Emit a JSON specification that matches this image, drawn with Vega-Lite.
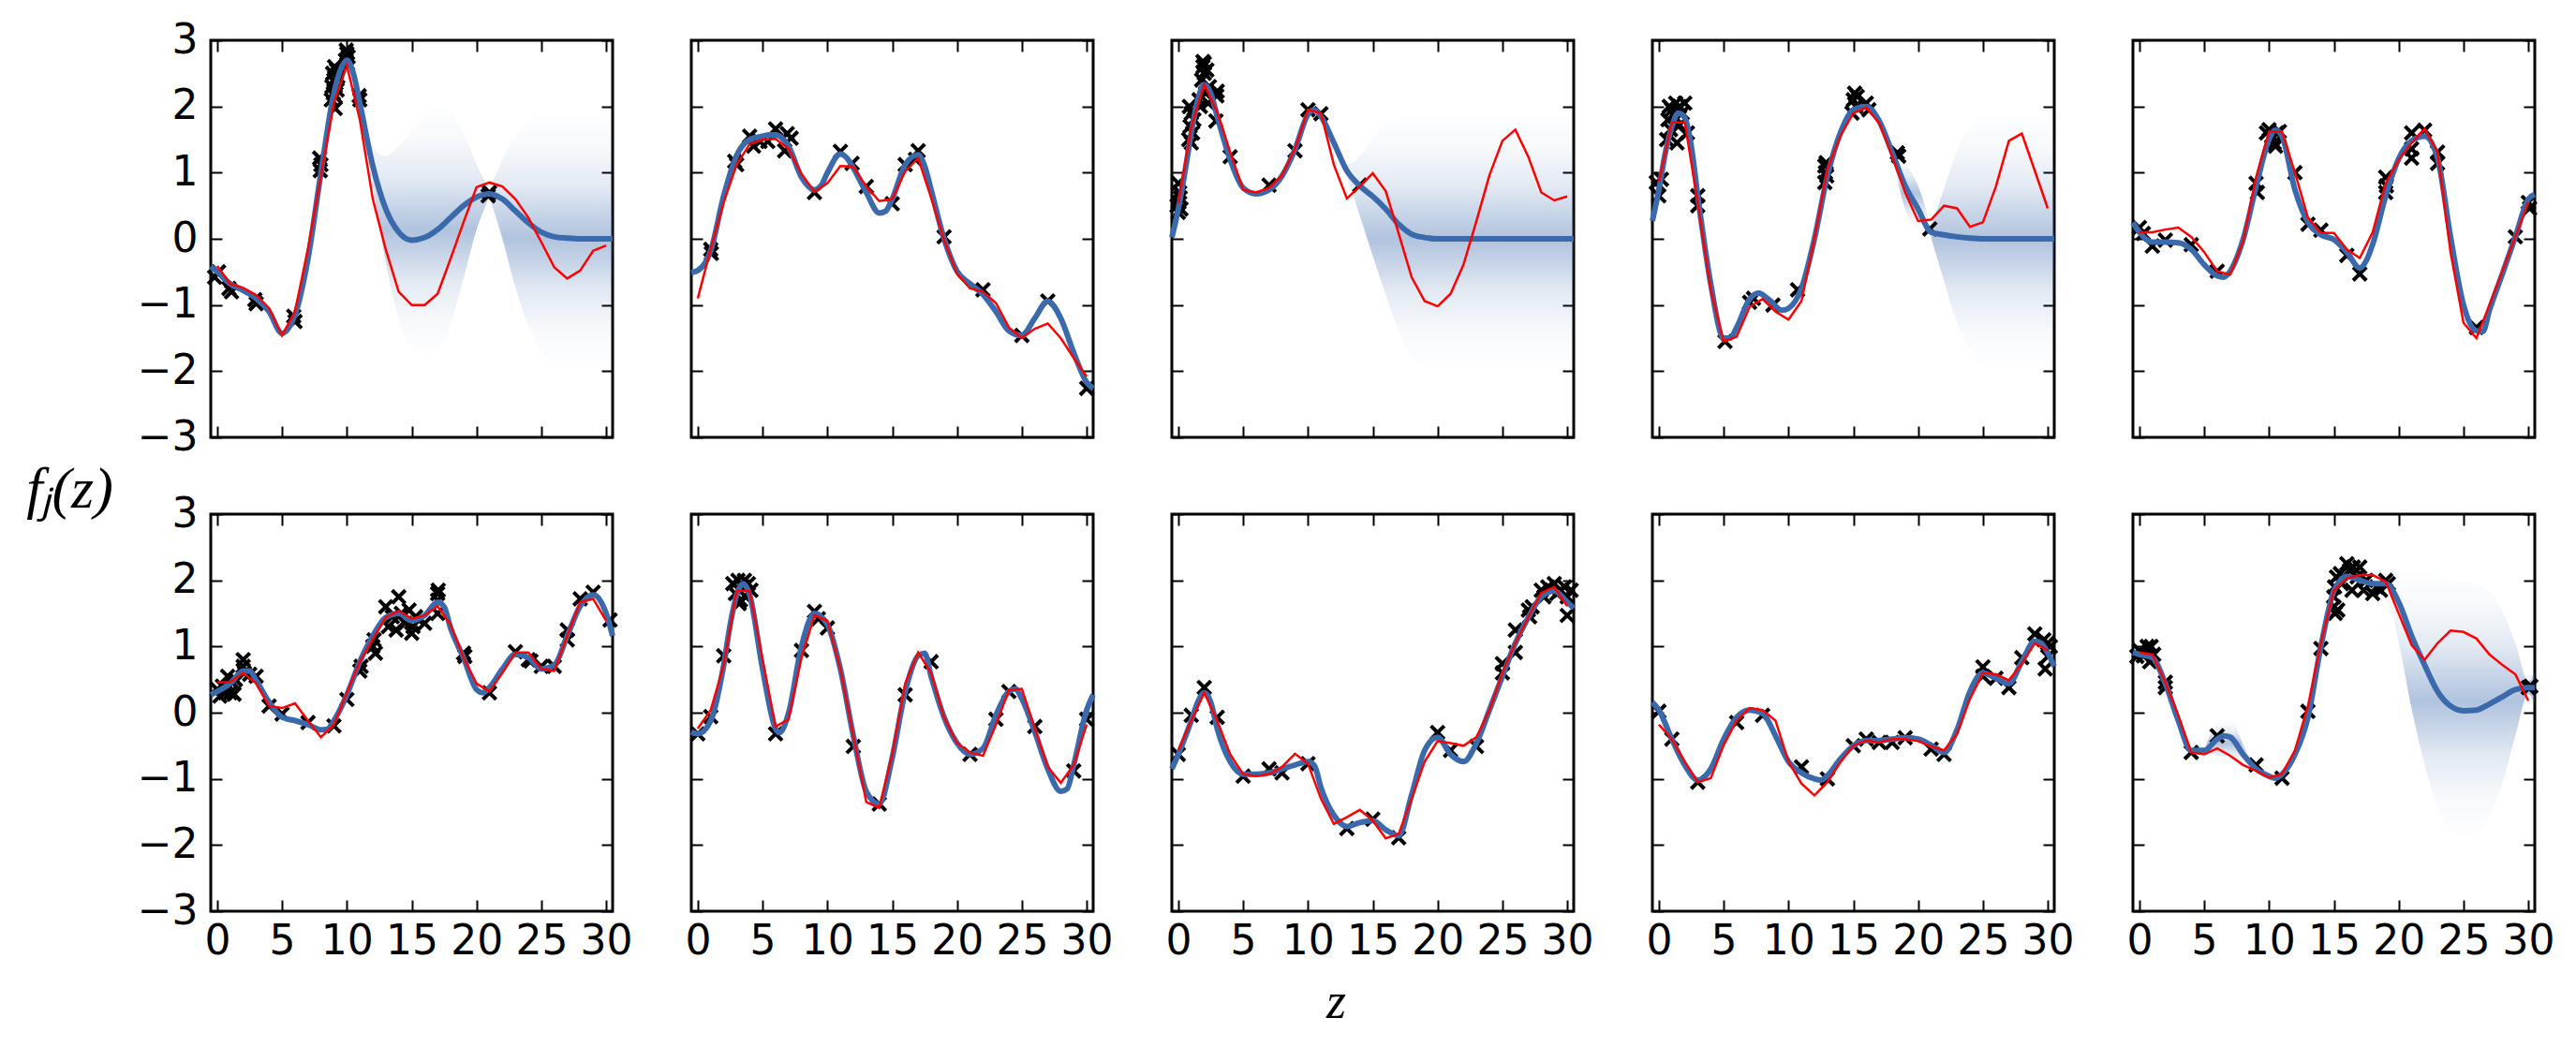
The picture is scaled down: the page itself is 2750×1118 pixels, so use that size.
{
"$schema": "https://vega.github.io/schema/vega-lite/v6.json",
"background": "white",
"padding": {"left": 26, "top": 19, "right": 0, "bottom": 0},
"datasets": {
"m": [
{"p":1,"z":-0.5,"y":-0.42},{"p":1,"z":0,"y":-0.5},{"p":1,"z":1,"y":-0.68},{"p":1,"z":2,"y":-0.78},{"p":1,"z":3,"y":-0.9},{"p":1,"z":4,"y":-1.1},{"p":1,"z":5,"y":-1.43},{"p":1,"z":5.5,"y":-1.35},{"p":1,"z":6,"y":-1.15},{"p":1,"z":7,"y":-0.3},{"p":1,"z":8,"y":1.0},{"p":1,"z":9,"y":2.2},{"p":1,"z":9.5,"y":2.55},{"p":1,"z":10,"y":2.7},{"p":1,"z":10.5,"y":2.5},{"p":1,"z":11,"y":2.05},{"p":1,"z":12,"y":1.1},{"p":1,"z":13,"y":0.45},{"p":1,"z":14,"y":0.1},{"p":1,"z":15,"y":-0.02},{"p":1,"z":16,"y":0.02},{"p":1,"z":17,"y":0.14},{"p":1,"z":18,"y":0.32},{"p":1,"z":19,"y":0.5},{"p":1,"z":20,"y":0.63},{"p":1,"z":21,"y":0.68},{"p":1,"z":22,"y":0.6},{"p":1,"z":23,"y":0.42},{"p":1,"z":24,"y":0.24},{"p":1,"z":25,"y":0.1},{"p":1,"z":26,"y":0.03},{"p":1,"z":27,"y":0.01},{"p":1,"z":28,"y":0},{"p":1,"z":29,"y":0},{"p":1,"z":30,"y":0},{"p":1,"z":30.5,"y":0},
{"p":2,"z":-0.5,"y":-0.51},{"p":2,"z":0,"y":-0.48},{"p":2,"z":1,"y":-0.18},{"p":2,"z":2,"y":0.65},{"p":2,"z":3,"y":1.26},{"p":2,"z":4,"y":1.5},{"p":2,"z":5,"y":1.55},{"p":2,"z":5.5,"y":1.57},{"p":2,"z":6,"y":1.57},{"p":2,"z":7,"y":1.4},{"p":2,"z":8,"y":0.93},{"p":2,"z":9,"y":0.74},{"p":2,"z":9.5,"y":0.8},{"p":2,"z":10,"y":1.0},{"p":2,"z":11,"y":1.28},{"p":2,"z":11.5,"y":1.22},{"p":2,"z":12,"y":1.07},{"p":2,"z":13,"y":0.7},{"p":2,"z":14,"y":0.39},{"p":2,"z":14.5,"y":0.42},{"p":2,"z":15,"y":0.6},{"p":2,"z":16,"y":1.12},{"p":2,"z":17,"y":1.27},{"p":2,"z":17.5,"y":1.1},{"p":2,"z":18,"y":0.74},{"p":2,"z":19,"y":0.0},{"p":2,"z":20,"y":-0.49},{"p":2,"z":21,"y":-0.68},{"p":2,"z":22,"y":-0.84},{"p":2,"z":23,"y":-1.1},{"p":2,"z":24,"y":-1.39},{"p":2,"z":25,"y":-1.46},{"p":2,"z":26,"y":-1.2},{"p":2,"z":27,"y":-0.94},{"p":2,"z":28,"y":-1.2},{"p":2,"z":29,"y":-1.72},{"p":2,"z":30,"y":-2.17},{"p":2,"z":30.5,"y":-2.26},
{"p":3,"z":-0.5,"y":0.02},{"p":3,"z":0,"y":0.45},{"p":3,"z":0.5,"y":1.0},{"p":3,"z":1,"y":1.6},{"p":3,"z":1.5,"y":2.1},{"p":3,"z":2,"y":2.33},{"p":3,"z":2.5,"y":2.2},{"p":3,"z":3,"y":1.85},{"p":3,"z":4,"y":1.2},{"p":3,"z":5,"y":0.77},{"p":3,"z":6,"y":0.68},{"p":3,"z":7,"y":0.74},{"p":3,"z":8,"y":0.95},{"p":3,"z":9,"y":1.35},{"p":3,"z":10,"y":1.88},{"p":3,"z":10.5,"y":1.95},{"p":3,"z":11,"y":1.85},{"p":3,"z":12,"y":1.45},{"p":3,"z":13,"y":1.03},{"p":3,"z":14,"y":0.8},{"p":3,"z":15,"y":0.64},{"p":3,"z":16,"y":0.45},{"p":3,"z":17,"y":0.22},{"p":3,"z":18,"y":0.07},{"p":3,"z":19,"y":0.02},{"p":3,"z":20,"y":0},{"p":3,"z":22,"y":0},{"p":3,"z":24,"y":0},{"p":3,"z":26,"y":0},{"p":3,"z":28,"y":0},{"p":3,"z":30,"y":0},{"p":3,"z":30.5,"y":0},
{"p":4,"z":-0.5,"y":0.27},{"p":4,"z":0,"y":0.74},{"p":4,"z":0.5,"y":1.3},{"p":4,"z":1,"y":1.69},{"p":4,"z":1.5,"y":1.9},{"p":4,"z":2,"y":1.83},{"p":4,"z":2.5,"y":1.4},{"p":4,"z":3,"y":0.65},{"p":4,"z":4,"y":-0.68},{"p":4,"z":5,"y":-1.5},{"p":4,"z":5.5,"y":-1.5},{"p":4,"z":6,"y":-1.34},{"p":4,"z":7,"y":-0.91},{"p":4,"z":7.7,"y":-0.82},{"p":4,"z":8.5,"y":-0.92},{"p":4,"z":9.5,"y":-1.08},{"p":4,"z":10,"y":-1.05},{"p":4,"z":11,"y":-0.75},{"p":4,"z":12,"y":0.0},{"p":4,"z":13,"y":0.95},{"p":4,"z":14,"y":1.6},{"p":4,"z":15,"y":1.95},{"p":4,"z":16,"y":2.0},{"p":4,"z":17,"y":1.78},{"p":4,"z":18,"y":1.3},{"p":4,"z":19,"y":0.8},{"p":4,"z":20,"y":0.45},{"p":4,"z":21,"y":0.1},{"p":4,"z":22,"y":0.06},{"p":4,"z":23,"y":0.03},{"p":4,"z":24,"y":0.01},{"p":4,"z":25,"y":0},{"p":4,"z":27,"y":0},{"p":4,"z":30,"y":0},{"p":4,"z":30.5,"y":0},
{"p":5,"z":-0.5,"y":0.25},{"p":5,"z":0,"y":0.1},{"p":5,"z":1,"y":-0.05},{"p":5,"z":2,"y":-0.05},{"p":5,"z":3,"y":-0.06},{"p":5,"z":4,"y":-0.16},{"p":5,"z":5,"y":-0.39},{"p":5,"z":6,"y":-0.56},{"p":5,"z":6.5,"y":-0.58},{"p":5,"z":7,"y":-0.49},{"p":5,"z":8,"y":-0.01},{"p":5,"z":9,"y":0.79},{"p":5,"z":10,"y":1.5},{"p":5,"z":10.5,"y":1.64},{"p":5,"z":11,"y":1.55},{"p":5,"z":12,"y":0.74},{"p":5,"z":13,"y":0.25},{"p":5,"z":14,"y":0.06},{"p":5,"z":15,"y":-0.01},{"p":5,"z":16,"y":-0.2},{"p":5,"z":17,"y":-0.44},{"p":5,"z":17.5,"y":-0.33},{"p":5,"z":18,"y":-0.08},{"p":5,"z":19,"y":0.65},{"p":5,"z":20,"y":1.21},{"p":5,"z":21,"y":1.48},{"p":5,"z":22,"y":1.55},{"p":5,"z":23,"y":1.22},{"p":5,"z":24,"y":0.03},{"p":5,"z":25,"y":-1.0},{"p":5,"z":26,"y":-1.39},{"p":5,"z":26.5,"y":-1.4},{"p":5,"z":27,"y":-1.08},{"p":5,"z":28,"y":-0.53},{"p":5,"z":29,"y":0.03},{"p":5,"z":30,"y":0.6},{"p":5,"z":30.5,"y":0.67},
{"p":6,"z":-0.5,"y":0.27},{"p":6,"z":0,"y":0.32},{"p":6,"z":1,"y":0.44},{"p":6,"z":2,"y":0.63},{"p":6,"z":2.5,"y":0.63},{"p":6,"z":3,"y":0.49},{"p":6,"z":4,"y":0.16},{"p":6,"z":5,"y":-0.07},{"p":6,"z":6,"y":-0.12},{"p":6,"z":7,"y":-0.18},{"p":6,"z":8,"y":-0.26},{"p":6,"z":8.5,"y":-0.25},{"p":6,"z":9,"y":-0.12},{"p":6,"z":10,"y":0.27},{"p":6,"z":11,"y":0.77},{"p":6,"z":12,"y":1.16},{"p":6,"z":13,"y":1.44},{"p":6,"z":14,"y":1.5},{"p":6,"z":15,"y":1.39},{"p":6,"z":16,"y":1.47},{"p":6,"z":17,"y":1.67},{"p":6,"z":17.5,"y":1.6},{"p":6,"z":18,"y":1.28},{"p":6,"z":19,"y":0.83},{"p":6,"z":20,"y":0.35},{"p":6,"z":20.5,"y":0.3},{"p":6,"z":21,"y":0.38},{"p":6,"z":22,"y":0.66},{"p":6,"z":23,"y":0.88},{"p":6,"z":24,"y":0.83},{"p":6,"z":25,"y":0.66},{"p":6,"z":26,"y":0.72},{"p":6,"z":27,"y":1.16},{"p":6,"z":28,"y":1.61},{"p":6,"z":29,"y":1.78},{"p":6,"z":30,"y":1.5},{"p":6,"z":30.5,"y":1.16},
{"p":7,"z":-0.5,"y":-0.29},{"p":7,"z":0,"y":-0.32},{"p":7,"z":1,"y":-0.12},{"p":7,"z":2,"y":0.72},{"p":7,"z":2.5,"y":1.33},{"p":7,"z":3,"y":1.78},{"p":7,"z":3.5,"y":1.95},{"p":7,"z":4,"y":1.78},{"p":7,"z":5,"y":0.66},{"p":7,"z":6,"y":-0.24},{"p":7,"z":6.3,"y":-0.3},{"p":7,"z":7,"y":-0.01},{"p":7,"z":8,"y":1.0},{"p":7,"z":9,"y":1.5},{"p":7,"z":10,"y":1.33},{"p":7,"z":11,"y":0.66},{"p":7,"z":12,"y":-0.35},{"p":7,"z":13,"y":-1.19},{"p":7,"z":14,"y":-1.38},{"p":7,"z":15,"y":-0.68},{"p":7,"z":16,"y":0.32},{"p":7,"z":17,"y":0.86},{"p":7,"z":17.5,"y":0.9},{"p":7,"z":18,"y":0.55},{"p":7,"z":19,"y":-0.07},{"p":7,"z":20,"y":-0.46},{"p":7,"z":21,"y":-0.63},{"p":7,"z":22,"y":-0.54},{"p":7,"z":23,"y":-0.04},{"p":7,"z":24,"y":0.32},{"p":7,"z":24.5,"y":0.36},{"p":7,"z":25,"y":0.21},{"p":7,"z":26,"y":-0.29},{"p":7,"z":27,"y":-0.85},{"p":7,"z":28,"y":-1.19},{"p":7,"z":28.5,"y":-1.15},{"p":7,"z":29,"y":-0.79},{"p":7,"z":30,"y":0.04},{"p":7,"z":30.5,"y":0.27},
{"p":8,"z":-0.5,"y":-0.85},{"p":8,"z":0,"y":-0.63},{"p":8,"z":1,"y":-0.12},{"p":8,"z":1.5,"y":0.16},{"p":8,"z":2,"y":0.3},{"p":8,"z":2.5,"y":0.16},{"p":8,"z":3,"y":-0.24},{"p":8,"z":4,"y":-0.74},{"p":8,"z":5,"y":-0.93},{"p":8,"z":6,"y":-0.93},{"p":8,"z":7,"y":-0.91},{"p":8,"z":8,"y":-0.85},{"p":8,"z":9,"y":-0.79},{"p":8,"z":10,"y":-0.74},{"p":8,"z":10.5,"y":-0.8},{"p":8,"z":11,"y":-1.13},{"p":8,"z":12,"y":-1.55},{"p":8,"z":13,"y":-1.72},{"p":8,"z":14,"y":-1.66},{"p":8,"z":15,"y":-1.63},{"p":8,"z":16,"y":-1.77},{"p":8,"z":17,"y":-1.86},{"p":8,"z":18,"y":-1.24},{"p":8,"z":19,"y":-0.57},{"p":8,"z":20,"y":-0.37},{"p":8,"z":21,"y":-0.63},{"p":8,"z":22,"y":-0.74},{"p":8,"z":23,"y":-0.46},{"p":8,"z":24,"y":0.04},{"p":8,"z":25,"y":0.55},{"p":8,"z":26,"y":1.05},{"p":8,"z":27,"y":1.44},{"p":8,"z":28,"y":1.75},{"p":8,"z":29,"y":1.84},{"p":8,"z":30,"y":1.67},{"p":8,"z":30.5,"y":1.58},
{"p":9,"z":-0.5,"y":0.16},{"p":9,"z":0,"y":0.04},{"p":9,"z":1,"y":-0.4},{"p":9,"z":2,"y":-0.79},{"p":9,"z":3,"y":-1.02},{"p":9,"z":4,"y":-0.85},{"p":9,"z":5,"y":-0.4},{"p":9,"z":6,"y":-0.07},{"p":9,"z":7,"y":0.04},{"p":9,"z":8,"y":-0.01},{"p":9,"z":9,"y":-0.35},{"p":9,"z":10,"y":-0.74},{"p":9,"z":11,"y":-0.91},{"p":9,"z":12,"y":-1.0},{"p":9,"z":12.5,"y":-1.02},{"p":9,"z":13,"y":-0.95},{"p":9,"z":14,"y":-0.7},{"p":9,"z":15,"y":-0.5},{"p":9,"z":16,"y":-0.42},{"p":9,"z":17,"y":-0.42},{"p":9,"z":18,"y":-0.4},{"p":9,"z":19,"y":-0.38},{"p":9,"z":20,"y":-0.4},{"p":9,"z":21,"y":-0.49},{"p":9,"z":22,"y":-0.6},{"p":9,"z":23,"y":-0.26},{"p":9,"z":24,"y":0.32},{"p":9,"z":25,"y":0.6},{"p":9,"z":26,"y":0.52},{"p":9,"z":27,"y":0.44},{"p":9,"z":28,"y":0.77},{"p":9,"z":29,"y":1.08},{"p":9,"z":29.5,"y":1.05},{"p":9,"z":30,"y":0.9},{"p":9,"z":30.5,"y":0.7},
{"p":10,"z":-0.5,"y":0.91},{"p":10,"z":0,"y":0.88},{"p":10,"z":1,"y":0.83},{"p":10,"z":2,"y":0.44},{"p":10,"z":3,"y":-0.12},{"p":10,"z":4,"y":-0.57},{"p":10,"z":5,"y":-0.57},{"p":10,"z":6,"y":-0.4},{"p":10,"z":6.5,"y":-0.35},{"p":10,"z":7,"y":-0.37},{"p":10,"z":8,"y":-0.63},{"p":10,"z":9,"y":-0.85},{"p":10,"z":10,"y":-0.96},{"p":10,"z":10.5,"y":-0.99},{"p":10,"z":11,"y":-0.93},{"p":10,"z":12,"y":-0.63},{"p":10,"z":13,"y":-0.07},{"p":10,"z":14,"y":1.0},{"p":10,"z":15,"y":1.84},{"p":10,"z":15.5,"y":2.0},{"p":10,"z":16,"y":2.06},{"p":10,"z":17,"y":2.0},{"p":10,"z":18,"y":1.95},{"p":10,"z":19,"y":1.95},{"p":10,"z":20,"y":1.67},{"p":10,"z":21,"y":1.16},{"p":10,"z":22,"y":0.72},{"p":10,"z":23,"y":0.32},{"p":10,"z":24,"y":0.1},{"p":10,"z":25,"y":0.03},{"p":10,"z":26,"y":0.04},{"p":10,"z":27,"y":0.13},{"p":10,"z":28,"y":0.24},{"p":10,"z":29,"y":0.35},{"p":10,"z":30,"y":0.38},{"p":10,"z":30.5,"y":0.38}
],
"r": [
{"p":1,"z":0,"y":-0.41},{"p":1,"z":1,"y":-0.68},{"p":1,"z":2,"y":-0.74},{"p":1,"z":3,"y":-0.85},{"p":1,"z":4,"y":-1.05},{"p":1,"z":5,"y":-1.46},{"p":1,"z":6,"y":-1.1},{"p":1,"z":7,"y":-0.15},{"p":1,"z":8,"y":0.95},{"p":1,"z":9,"y":2.05},{"p":1,"z":10,"y":2.62},{"p":1,"z":11,"y":1.8},{"p":1,"z":12,"y":0.6},{"p":1,"z":13,"y":-0.16},{"p":1,"z":14,"y":-0.8},{"p":1,"z":15,"y":-1.0},{"p":1,"z":16,"y":-1.0},{"p":1,"z":17,"y":-0.83},{"p":1,"z":18,"y":-0.3},{"p":1,"z":19,"y":0.25},{"p":1,"z":20,"y":0.78},{"p":1,"z":21,"y":0.85},{"p":1,"z":22,"y":0.79},{"p":1,"z":23,"y":0.6},{"p":1,"z":24,"y":0.32},{"p":1,"z":25,"y":-0.05},{"p":1,"z":26,"y":-0.43},{"p":1,"z":27,"y":-0.6},{"p":1,"z":28,"y":-0.48},{"p":1,"z":29,"y":-0.18},{"p":1,"z":30,"y":-0.1},
{"p":2,"z":0,"y":-0.9},{"p":2,"z":1,"y":-0.15},{"p":2,"z":2,"y":0.55},{"p":2,"z":3,"y":1.12},{"p":2,"z":4,"y":1.43},{"p":2,"z":5,"y":1.5},{"p":2,"z":6,"y":1.51},{"p":2,"z":7,"y":1.36},{"p":2,"z":8,"y":0.98},{"p":2,"z":9,"y":0.71},{"p":2,"z":10,"y":0.84},{"p":2,"z":11,"y":1.1},{"p":2,"z":12,"y":1.09},{"p":2,"z":13,"y":0.79},{"p":2,"z":14,"y":0.57},{"p":2,"z":15,"y":0.6},{"p":2,"z":16,"y":1.02},{"p":2,"z":17,"y":1.22},{"p":2,"z":18,"y":0.62},{"p":2,"z":19,"y":-0.02},{"p":2,"z":20,"y":-0.53},{"p":2,"z":21,"y":-0.75},{"p":2,"z":22,"y":-0.8},{"p":2,"z":23,"y":-0.97},{"p":2,"z":24,"y":-1.34},{"p":2,"z":25,"y":-1.5},{"p":2,"z":26,"y":-1.36},{"p":2,"z":27,"y":-1.28},{"p":2,"z":28,"y":-1.5},{"p":2,"z":29,"y":-1.8},{"p":2,"z":30,"y":-2.08},
{"p":3,"z":0,"y":0.53},{"p":3,"z":1,"y":1.69},{"p":3,"z":2,"y":2.33},{"p":3,"z":3,"y":1.92},{"p":3,"z":4,"y":1.31},{"p":3,"z":5,"y":0.74},{"p":3,"z":6,"y":0.7},{"p":3,"z":7,"y":0.77},{"p":3,"z":8,"y":0.96},{"p":3,"z":9,"y":1.36},{"p":3,"z":10,"y":1.95},{"p":3,"z":11,"y":1.9},{"p":3,"z":12,"y":1.12},{"p":3,"z":13,"y":0.61},{"p":3,"z":14,"y":0.79},{"p":3,"z":15,"y":0.99},{"p":3,"z":16,"y":0.72},{"p":3,"z":17,"y":0.08},{"p":3,"z":18,"y":-0.58},{"p":3,"z":19,"y":-0.94},{"p":3,"z":20,"y":-1.02},{"p":3,"z":21,"y":-0.83},{"p":3,"z":22,"y":-0.39},{"p":3,"z":23,"y":0.27},{"p":3,"z":24,"y":0.96},{"p":3,"z":25,"y":1.48},{"p":3,"z":26,"y":1.65},{"p":3,"z":27,"y":1.24},{"p":3,"z":28,"y":0.7},{"p":3,"z":29,"y":0.58},{"p":3,"z":30,"y":0.64},
{"p":4,"z":0,"y":0.86},{"p":4,"z":1,"y":1.76},{"p":4,"z":2,"y":1.76},{"p":4,"z":3,"y":0.55},{"p":4,"z":4,"y":-0.77},{"p":4,"z":5,"y":-1.55},{"p":4,"z":6,"y":-1.48},{"p":4,"z":7,"y":-1.03},{"p":4,"z":8,"y":-0.91},{"p":4,"z":9,"y":-1.1},{"p":4,"z":10,"y":-1.22},{"p":4,"z":11,"y":-0.94},{"p":4,"z":12,"y":0.0},{"p":4,"z":13,"y":1.05},{"p":4,"z":14,"y":1.55},{"p":4,"z":15,"y":1.9},{"p":4,"z":16,"y":1.98},{"p":4,"z":17,"y":1.75},{"p":4,"z":18,"y":1.25},{"p":4,"z":19,"y":0.7},{"p":4,"z":20,"y":0.27},{"p":4,"z":21,"y":0.29},{"p":4,"z":22,"y":0.5},{"p":4,"z":23,"y":0.46},{"p":4,"z":24,"y":0.18},{"p":4,"z":25,"y":0.25},{"p":4,"z":26,"y":0.79},{"p":4,"z":27,"y":1.48},{"p":4,"z":28,"y":1.59},{"p":4,"z":29,"y":1.03},{"p":4,"z":30,"y":0.46},
{"p":5,"z":0,"y":0.1},{"p":5,"z":1,"y":0.1},{"p":5,"z":2,"y":0.14},{"p":5,"z":3,"y":0.17},{"p":5,"z":4,"y":0.03},{"p":5,"z":5,"y":-0.2},{"p":5,"z":6,"y":-0.49},{"p":5,"z":7,"y":-0.54},{"p":5,"z":8,"y":-0.04},{"p":5,"z":9,"y":0.93},{"p":5,"z":10,"y":1.62},{"p":5,"z":11,"y":1.62},{"p":5,"z":12,"y":1.0},{"p":5,"z":13,"y":0.32},{"p":5,"z":14,"y":0.09},{"p":5,"z":15,"y":0.09},{"p":5,"z":16,"y":-0.16},{"p":5,"z":17,"y":-0.29},{"p":5,"z":18,"y":0.1},{"p":5,"z":19,"y":0.84},{"p":5,"z":20,"y":1.19},{"p":5,"z":21,"y":1.45},{"p":5,"z":22,"y":1.66},{"p":5,"z":23,"y":1.31},{"p":5,"z":24,"y":-0.2},{"p":5,"z":25,"y":-1.27},{"p":5,"z":26,"y":-1.5},{"p":5,"z":27,"y":-1.0},{"p":5,"z":28,"y":-0.49},{"p":5,"z":29,"y":0.03},{"p":5,"z":30,"y":0.55},
{"p":6,"z":0,"y":0.46},{"p":6,"z":1,"y":0.46},{"p":6,"z":2,"y":0.6},{"p":6,"z":3,"y":0.44},{"p":6,"z":4,"y":0.1},{"p":6,"z":5,"y":0.07},{"p":6,"z":6,"y":0.14},{"p":6,"z":7,"y":-0.12},{"p":6,"z":8,"y":-0.37},{"p":6,"z":9,"y":-0.18},{"p":6,"z":10,"y":0.3},{"p":6,"z":11,"y":0.77},{"p":6,"z":12,"y":1.11},{"p":6,"z":13,"y":1.44},{"p":6,"z":14,"y":1.54},{"p":6,"z":15,"y":1.42},{"p":6,"z":16,"y":1.47},{"p":6,"z":17,"y":1.61},{"p":6,"z":18,"y":1.33},{"p":6,"z":19,"y":0.83},{"p":6,"z":20,"y":0.44},{"p":6,"z":21,"y":0.32},{"p":6,"z":22,"y":0.6},{"p":6,"z":23,"y":0.91},{"p":6,"z":24,"y":0.91},{"p":6,"z":25,"y":0.66},{"p":6,"z":26,"y":0.63},{"p":6,"z":27,"y":1.16},{"p":6,"z":28,"y":1.67},{"p":6,"z":29,"y":1.72},{"p":6,"z":30,"y":1.39},
{"p":7,"z":0,"y":-0.24},{"p":7,"z":1,"y":0.04},{"p":7,"z":2,"y":0.72},{"p":7,"z":3,"y":1.84},{"p":7,"z":4,"y":1.84},{"p":7,"z":5,"y":0.8},{"p":7,"z":6,"y":-0.21},{"p":7,"z":7,"y":-0.1},{"p":7,"z":8,"y":0.83},{"p":7,"z":9,"y":1.47},{"p":7,"z":10,"y":1.39},{"p":7,"z":11,"y":0.66},{"p":7,"z":12,"y":-0.35},{"p":7,"z":13,"y":-1.35},{"p":7,"z":14,"y":-1.44},{"p":7,"z":15,"y":-0.63},{"p":7,"z":16,"y":0.44},{"p":7,"z":17,"y":0.91},{"p":7,"z":18,"y":0.6},{"p":7,"z":19,"y":-0.07},{"p":7,"z":20,"y":-0.46},{"p":7,"z":21,"y":-0.6},{"p":7,"z":22,"y":-0.65},{"p":7,"z":23,"y":-0.18},{"p":7,"z":24,"y":0.34},{"p":7,"z":25,"y":0.36},{"p":7,"z":26,"y":-0.24},{"p":7,"z":27,"y":-0.82},{"p":7,"z":28,"y":-1.06},{"p":7,"z":29,"y":-0.79},{"p":7,"z":30,"y":-0.18},
{"p":8,"z":0,"y":-0.57},{"p":8,"z":1,"y":-0.12},{"p":8,"z":2,"y":0.3},{"p":8,"z":3,"y":-0.12},{"p":8,"z":4,"y":-0.63},{"p":8,"z":5,"y":-0.93},{"p":8,"z":6,"y":-0.96},{"p":8,"z":7,"y":-0.93},{"p":8,"z":8,"y":-0.82},{"p":8,"z":9,"y":-0.62},{"p":8,"z":10,"y":-0.77},{"p":8,"z":11,"y":-1.3},{"p":8,"z":12,"y":-1.68},{"p":8,"z":13,"y":-1.58},{"p":8,"z":14,"y":-1.47},{"p":8,"z":15,"y":-1.63},{"p":8,"z":16,"y":-1.9},{"p":8,"z":17,"y":-1.83},{"p":8,"z":18,"y":-1.3},{"p":8,"z":19,"y":-0.74},{"p":8,"z":20,"y":-0.43},{"p":8,"z":21,"y":-0.46},{"p":8,"z":22,"y":-0.5},{"p":8,"z":23,"y":-0.37},{"p":8,"z":24,"y":0.04},{"p":8,"z":25,"y":0.6},{"p":8,"z":26,"y":1.05},{"p":8,"z":27,"y":1.44},{"p":8,"z":28,"y":1.81},{"p":8,"z":29,"y":1.9},{"p":8,"z":30,"y":1.61},
{"p":9,"z":0,"y":-0.18},{"p":9,"z":1,"y":-0.4},{"p":9,"z":2,"y":-0.74},{"p":9,"z":3,"y":-1.05},{"p":9,"z":4,"y":-0.99},{"p":9,"z":5,"y":-0.49},{"p":9,"z":6,"y":-0.12},{"p":9,"z":7,"y":0.07},{"p":9,"z":8,"y":0.04},{"p":9,"z":9,"y":-0.12},{"p":9,"z":10,"y":-0.74},{"p":9,"z":11,"y":-1.07},{"p":9,"z":12,"y":-1.25},{"p":9,"z":13,"y":-1.05},{"p":9,"z":14,"y":-0.75},{"p":9,"z":15,"y":-0.5},{"p":9,"z":16,"y":-0.42},{"p":9,"z":17,"y":-0.45},{"p":9,"z":18,"y":-0.4},{"p":9,"z":19,"y":-0.4},{"p":9,"z":20,"y":-0.43},{"p":9,"z":21,"y":-0.51},{"p":9,"z":22,"y":-0.57},{"p":9,"z":23,"y":-0.32},{"p":9,"z":24,"y":0.21},{"p":9,"z":25,"y":0.6},{"p":9,"z":26,"y":0.58},{"p":9,"z":27,"y":0.49},{"p":9,"z":28,"y":0.74},{"p":9,"z":29,"y":1.05},{"p":9,"z":30,"y":0.94},
{"p":10,"z":0,"y":0.91},{"p":10,"z":1,"y":0.88},{"p":10,"z":2,"y":0.46},{"p":10,"z":3,"y":-0.04},{"p":10,"z":4,"y":-0.6},{"p":10,"z":5,"y":-0.63},{"p":10,"z":6,"y":-0.54},{"p":10,"z":7,"y":-0.65},{"p":10,"z":8,"y":-0.79},{"p":10,"z":9,"y":-0.88},{"p":10,"z":10,"y":-0.98},{"p":10,"z":11,"y":-0.93},{"p":10,"z":12,"y":-0.57},{"p":10,"z":13,"y":0.1},{"p":10,"z":14,"y":1.05},{"p":10,"z":15,"y":1.84},{"p":10,"z":16,"y":2.03},{"p":10,"z":17,"y":2.08},{"p":10,"z":18,"y":2.08},{"p":10,"z":19,"y":1.98},{"p":10,"z":20,"y":1.5},{"p":10,"z":21,"y":1.02},{"p":10,"z":22,"y":0.8},{"p":10,"z":23,"y":1.05},{"p":10,"z":24,"y":1.24},{"p":10,"z":25,"y":1.22},{"p":10,"z":26,"y":1.12},{"p":10,"z":27,"y":0.88},{"p":10,"z":28,"y":0.72},{"p":10,"z":29,"y":0.58},{"p":10,"z":30,"y":0.18}
],
"o": [
{"p":1,"z":-0.2,"y":-0.58},{"p":1,"z":0.1,"y":-0.5},{"p":1,"z":0.9,"y":-0.75},{"p":1,"z":1.1,"y":-0.8},{"p":1,"z":2.9,"y":-0.92},{"p":1,"z":3.0,"y":-0.98},{"p":1,"z":5.9,"y":-1.17},{"p":1,"z":6.0,"y":-1.25},{"p":1,"z":7.9,"y":1.22},{"p":1,"z":7.95,"y":1.03},{"p":1,"z":8.0,"y":1.12},{"p":1,"z":8.8,"y":2.1},{"p":1,"z":8.85,"y":2.3},{"p":1,"z":8.9,"y":2.5},{"p":1,"z":8.95,"y":2.2},{"p":1,"z":9.0,"y":2.4},{"p":1,"z":9.05,"y":2.6},{"p":1,"z":9.1,"y":2.15},{"p":1,"z":9.15,"y":2.35},{"p":1,"z":9.2,"y":2.55},{"p":1,"z":9.25,"y":2.25},{"p":1,"z":9.1,"y":1.97},{"p":1,"z":9.3,"y":2.45},{"p":1,"z":9.9,"y":2.7},{"p":1,"z":10.0,"y":2.8},{"p":1,"z":10.05,"y":2.65},{"p":1,"z":9.95,"y":2.85},{"p":1,"z":10.1,"y":2.75},{"p":1,"z":10.95,"y":2.16},{"p":1,"z":11.0,"y":2.1},{"p":1,"z":21.0,"y":0.7},{"p":1,"z":20.9,"y":0.65},
{"p":2,"z":1.0,"y":-0.16},{"p":2,"z":1.05,"y":-0.22},{"p":2,"z":2.85,"y":1.17},{"p":2,"z":3.0,"y":1.12},{"p":2,"z":4.0,"y":1.55},{"p":2,"z":4.3,"y":1.4},{"p":2,"z":4.8,"y":1.47},{"p":2,"z":5.4,"y":1.47},{"p":2,"z":6.0,"y":1.66},{"p":2,"z":6.7,"y":1.33},{"p":2,"z":6.9,"y":1.59},{"p":2,"z":7.2,"y":1.52},{"p":2,"z":9.0,"y":0.7},{"p":2,"z":11.0,"y":1.32},{"p":2,"z":11.9,"y":1.14},{"p":2,"z":13.0,"y":0.79},{"p":2,"z":15.0,"y":0.53},{"p":2,"z":16.0,"y":1.12},{"p":2,"z":17.0,"y":1.33},{"p":2,"z":16.8,"y":1.2},{"p":2,"z":19.0,"y":0.03},{"p":2,"z":22.0,"y":-0.77},{"p":2,"z":25.0,"y":-1.46},{"p":2,"z":27.0,"y":-0.94},{"p":2,"z":30.0,"y":-2.26},
{"p":3,"z":-0.1,"y":0.5},{"p":3,"z":0.0,"y":0.4},{"p":3,"z":0.05,"y":0.55},{"p":3,"z":0.1,"y":0.7},{"p":3,"z":0.0,"y":0.84},{"p":3,"z":0.15,"y":0.62},{"p":3,"z":0.2,"y":0.45},{"p":3,"z":0.8,"y":1.5},{"p":3,"z":0.9,"y":1.7},{"p":3,"z":1.0,"y":1.9},{"p":3,"z":1.1,"y":1.6},{"p":3,"z":1.2,"y":1.8},{"p":3,"z":0.85,"y":2.0},{"p":3,"z":1.0,"y":1.45},{"p":3,"z":1.6,"y":2.1},{"p":3,"z":1.7,"y":2.0},{"p":3,"z":1.8,"y":2.4},{"p":3,"z":1.9,"y":2.6},{"p":3,"z":2.0,"y":2.5},{"p":3,"z":2.1,"y":2.2},{"p":3,"z":2.2,"y":2.55},{"p":3,"z":2.4,"y":2.3},{"p":3,"z":2.3,"y":2.05},{"p":3,"z":1.9,"y":2.68},{"p":3,"z":2.0,"y":2.65},{"p":3,"z":2.9,"y":1.78},{"p":3,"z":2.97,"y":2.16},{"p":3,"z":3.0,"y":2.23},{"p":3,"z":4.0,"y":1.24},{"p":3,"z":7.0,"y":0.81},{"p":3,"z":9.0,"y":1.33},{"p":3,"z":10.0,"y":1.95},{"p":3,"z":11.0,"y":1.89},{"p":3,"z":14.0,"y":0.81},
{"p":4,"z":-0.2,"y":0.85},{"p":4,"z":0.0,"y":0.65},{"p":4,"z":0.2,"y":0.9},{"p":4,"z":0.6,"y":1.5},{"p":4,"z":0.7,"y":1.8},{"p":4,"z":0.8,"y":2.0},{"p":4,"z":0.9,"y":1.65},{"p":4,"z":1.0,"y":1.95},{"p":4,"z":1.2,"y":1.85},{"p":4,"z":1.3,"y":2.05},{"p":4,"z":1.5,"y":1.7},{"p":4,"z":1.6,"y":2.0},{"p":4,"z":1.8,"y":1.9},{"p":4,"z":2.0,"y":2.05},{"p":4,"z":2.2,"y":1.6},{"p":4,"z":1.4,"y":1.45},{"p":4,"z":3.0,"y":0.65},{"p":4,"z":3.0,"y":0.5},{"p":4,"z":5.1,"y":-1.55},{"p":4,"z":7.0,"y":-0.96},{"p":4,"z":7.3,"y":-0.9},{"p":4,"z":8.8,"y":-1.0},{"p":4,"z":10.7,"y":-0.77},{"p":4,"z":12.8,"y":0.85},{"p":4,"z":12.85,"y":1.0},{"p":4,"z":12.9,"y":1.15},{"p":4,"z":12.8,"y":1.1},{"p":4,"z":12.95,"y":0.95},{"p":4,"z":14.9,"y":1.9},{"p":4,"z":15.0,"y":2.1},{"p":4,"z":15.1,"y":2.2},{"p":4,"z":15.2,"y":2.0},{"p":4,"z":15.3,"y":2.15},{"p":4,"z":16.0,"y":2.05},{"p":4,"z":16.2,"y":1.95},{"p":4,"z":18.4,"y":1.3},{"p":4,"z":18.5,"y":1.25},{"p":4,"z":20.9,"y":0.15},
{"p":5,"z":0.0,"y":0.17},{"p":5,"z":0.3,"y":0.08},{"p":5,"z":1.0,"y":-0.11},{"p":5,"z":2.0,"y":-0.02},{"p":5,"z":4.0,"y":-0.09},{"p":5,"z":6.0,"y":-0.49},{"p":5,"z":9.0,"y":0.84},{"p":5,"z":9.1,"y":0.7},{"p":5,"z":9.8,"y":1.6},{"p":5,"z":10.0,"y":1.65},{"p":5,"z":10.2,"y":1.55},{"p":5,"z":10.4,"y":1.45},{"p":5,"z":10.6,"y":1.6},{"p":5,"z":10.8,"y":1.62},{"p":5,"z":10.5,"y":1.4},{"p":5,"z":12.0,"y":1.0},{"p":5,"z":13.0,"y":0.22},{"p":5,"z":14.0,"y":0.13},{"p":5,"z":16.0,"y":-0.25},{"p":5,"z":17.0,"y":-0.53},{"p":5,"z":19.0,"y":0.93},{"p":5,"z":19.0,"y":0.7},{"p":5,"z":19.05,"y":0.8},{"p":5,"z":21.0,"y":1.6},{"p":5,"z":21.0,"y":1.36},{"p":5,"z":21.0,"y":1.22},{"p":5,"z":22.0,"y":1.64},{"p":5,"z":23.0,"y":1.31},{"p":5,"z":23.0,"y":1.14},{"p":5,"z":26.0,"y":-1.34},{"p":5,"z":29.0,"y":0.03},{"p":5,"z":30.0,"y":0.55},{"p":5,"z":30.1,"y":0.46},
{"p":6,"z":0.0,"y":0.35},{"p":6,"z":0.2,"y":0.25},{"p":6,"z":0.4,"y":0.4},{"p":6,"z":0.6,"y":0.3},{"p":6,"z":0.8,"y":0.55},{"p":6,"z":1.0,"y":0.3},{"p":6,"z":1.2,"y":0.45},{"p":6,"z":1.4,"y":0.5},{"p":6,"z":1.3,"y":0.28},{"p":6,"z":2.0,"y":0.8},{"p":6,"z":2.0,"y":0.7},{"p":6,"z":2.1,"y":0.6},{"p":6,"z":2.5,"y":0.58},{"p":6,"z":3.0,"y":0.55},{"p":6,"z":4.0,"y":0.1},{"p":6,"z":5.0,"y":-0.02},{"p":6,"z":7.0,"y":-0.15},{"p":6,"z":9.0,"y":-0.2},{"p":6,"z":10.0,"y":0.2},{"p":6,"z":11.0,"y":0.63},{"p":6,"z":11.1,"y":0.7},{"p":6,"z":12.0,"y":1.0},{"p":6,"z":12.1,"y":1.1},{"p":6,"z":12.2,"y":0.9},{"p":6,"z":13.0,"y":1.6},{"p":6,"z":13.2,"y":1.3},{"p":6,"z":13.5,"y":1.45},{"p":6,"z":14.0,"y":1.75},{"p":6,"z":14.2,"y":1.5},{"p":6,"z":14.5,"y":1.35},{"p":6,"z":14.8,"y":1.55},{"p":6,"z":15.0,"y":1.2},{"p":6,"z":15.1,"y":1.3},{"p":6,"z":15.3,"y":1.45},{"p":6,"z":13.8,"y":1.25},{"p":6,"z":16.0,"y":1.35},{"p":6,"z":17.0,"y":1.8},{"p":6,"z":17.0,"y":1.7},{"p":6,"z":17.05,"y":1.85},{"p":6,"z":17.0,"y":1.5},{"p":6,"z":19.0,"y":0.9},{"p":6,"z":19.1,"y":0.85},{"p":6,"z":21.0,"y":0.3},{"p":6,"z":23.0,"y":0.92},{"p":6,"z":24.0,"y":0.8},{"p":6,"z":24.2,"y":0.78},{"p":6,"z":25.0,"y":0.7},{"p":6,"z":26.0,"y":0.7},{"p":6,"z":27.0,"y":1.1},{"p":6,"z":27.0,"y":1.25},{"p":6,"z":28.0,"y":1.72},{"p":6,"z":29.0,"y":1.82},{"p":6,"z":30.3,"y":1.4},
{"p":7,"z":0.0,"y":-0.32},{"p":7,"z":1.0,"y":-0.06},{"p":7,"z":2.0,"y":0.86},{"p":7,"z":2.7,"y":1.95},{"p":7,"z":2.9,"y":1.8},{"p":7,"z":3.1,"y":2.0},{"p":7,"z":3.3,"y":1.7},{"p":7,"z":3.5,"y":1.9},{"p":7,"z":3.7,"y":1.75},{"p":7,"z":3.9,"y":1.95},{"p":7,"z":4.1,"y":1.85},{"p":7,"z":3.2,"y":1.65},{"p":7,"z":3.6,"y":2.0},{"p":7,"z":6.0,"y":-0.32},{"p":7,"z":8.0,"y":0.94},{"p":7,"z":9.0,"y":1.53},{"p":7,"z":9.3,"y":1.42},{"p":7,"z":10.0,"y":1.28},{"p":7,"z":12.0,"y":-0.51},{"p":7,"z":14.0,"y":-1.38},{"p":7,"z":16.0,"y":0.27},{"p":7,"z":18.0,"y":0.77},{"p":7,"z":21.0,"y":-0.63},{"p":7,"z":23.0,"y":-0.1},{"p":7,"z":24.0,"y":0.32},{"p":7,"z":26.0,"y":-0.21},{"p":7,"z":29.0,"y":-0.88},{"p":7,"z":30.0,"y":-0.1},
{"p":8,"z":0.0,"y":-0.63},{"p":8,"z":1.0,"y":-0.04},{"p":8,"z":2.0,"y":0.38},{"p":8,"z":3.0,"y":-0.07},{"p":8,"z":5.0,"y":-0.96},{"p":8,"z":7.0,"y":-0.85},{"p":8,"z":8.0,"y":-0.91},{"p":8,"z":10.0,"y":-0.77},{"p":8,"z":13.0,"y":-1.75},{"p":8,"z":15.0,"y":-1.61},{"p":8,"z":17.0,"y":-1.89},{"p":8,"z":20.0,"y":-0.3},{"p":8,"z":21.0,"y":-0.57},{"p":8,"z":23.0,"y":-0.51},{"p":8,"z":25.0,"y":0.74},{"p":8,"z":25.0,"y":0.6},{"p":8,"z":26.0,"y":1.25},{"p":8,"z":26.0,"y":0.91},{"p":8,"z":27.0,"y":1.55},{"p":8,"z":27.1,"y":1.45},{"p":8,"z":27.3,"y":1.6},{"p":8,"z":28.0,"y":1.85},{"p":8,"z":28.2,"y":1.75},{"p":8,"z":28.5,"y":1.9},{"p":8,"z":29.0,"y":1.95},{"p":8,"z":29.2,"y":1.8},{"p":8,"z":29.5,"y":1.85},{"p":8,"z":29.8,"y":1.9},{"p":8,"z":30.0,"y":1.75},{"p":8,"z":30.0,"y":1.47},{"p":8,"z":30.3,"y":1.85},
{"p":9,"z":0.0,"y":0.02},{"p":9,"z":1.0,"y":-0.4},{"p":9,"z":3.0,"y":-1.05},{"p":9,"z":6.0,"y":-0.15},{"p":9,"z":8.0,"y":-0.04},{"p":9,"z":11.0,"y":-0.82},{"p":9,"z":13.0,"y":-1.0},{"p":9,"z":15.0,"y":-0.5},{"p":9,"z":16.0,"y":-0.4},{"p":9,"z":17.0,"y":-0.45},{"p":9,"z":18.0,"y":-0.45},{"p":9,"z":19.0,"y":-0.38},{"p":9,"z":21.0,"y":-0.55},{"p":9,"z":22.0,"y":-0.63},{"p":9,"z":25.0,"y":0.69},{"p":9,"z":25.0,"y":0.55},{"p":9,"z":26.0,"y":0.52},{"p":9,"z":27.0,"y":0.38},{"p":9,"z":28.0,"y":0.83},{"p":9,"z":29.0,"y":1.19},{"p":9,"z":29.7,"y":1.1},{"p":9,"z":29.8,"y":0.66},{"p":9,"z":30.0,"y":1.05},{"p":9,"z":30.0,"y":0.85},{"p":9,"z":30.2,"y":1.0},
{"p":10,"z":0.0,"y":0.94},{"p":10,"z":0.3,"y":0.86},{"p":10,"z":0.6,"y":1.0},{"p":10,"z":0.9,"y":1.0},{"p":10,"z":1.1,"y":0.88},{"p":10,"z":0.8,"y":0.77},{"p":10,"z":-0.2,"y":0.85},{"p":10,"z":2.0,"y":0.46},{"p":10,"z":2.0,"y":0.38},{"p":10,"z":4.0,"y":-0.6},{"p":10,"z":6.0,"y":-0.35},{"p":10,"z":9.0,"y":-0.79},{"p":10,"z":11.0,"y":-0.99},{"p":10,"z":13.0,"y":0.02},{"p":10,"z":14.0,"y":0.97},{"p":10,"z":15.0,"y":1.6},{"p":10,"z":15.0,"y":1.75},{"p":10,"z":15.05,"y":1.9},{"p":10,"z":15.1,"y":1.5},{"p":10,"z":15.2,"y":2.05},{"p":10,"z":15.5,"y":2.1},{"p":10,"z":16.0,"y":2.25},{"p":10,"z":16.2,"y":2.15},{"p":10,"z":16.5,"y":2.2},{"p":10,"z":16.8,"y":2.05},{"p":10,"z":17.0,"y":2.2},{"p":10,"z":17.3,"y":1.85},{"p":10,"z":17.5,"y":2.0},{"p":10,"z":18.0,"y":1.8},{"p":10,"z":18.3,"y":1.9},{"p":10,"z":18.6,"y":1.85},{"p":10,"z":19.0,"y":2.0},{"p":10,"z":19.2,"y":1.95},{"p":10,"z":15.3,"y":1.55},{"p":10,"z":15.6,"y":1.95},{"p":10,"z":16.4,"y":1.85},{"p":10,"z":30.0,"y":0.38},{"p":10,"z":30.2,"y":0.4}
],
"b": [
{"p":1,"g":"a","z":11,"lo":2.0,"hi":2.1},
{"p":1,"g":"a","z":12,"lo":0.8,"hi":1.4},
{"p":1,"g":"a","z":13,"lo":-0.35,"hi":1.25},
{"p":1,"g":"a","z":14,"lo":-1.2,"hi":1.4},
{"p":1,"g":"a","z":15,"lo":-1.67,"hi":1.63},
{"p":1,"g":"a","z":16,"lo":-1.83,"hi":1.87},
{"p":1,"g":"a","z":17,"lo":-1.71,"hi":1.99},
{"p":1,"g":"a","z":18,"lo":-1.28,"hi":1.92},
{"p":1,"g":"a","z":19,"lo":-0.6,"hi":1.6},
{"p":1,"g":"a","z":20,"lo":0.13,"hi":1.13},
{"p":1,"g":"a","z":21,"lo":0.63,"hi":0.73},
{"p":1,"g":"b","z":21,"lo":0.63,"hi":0.73},
{"p":1,"g":"b","z":22,"lo":0.0,"hi":1.2},
{"p":1,"g":"b","z":23,"lo":-0.73,"hi":1.57},
{"p":1,"g":"b","z":24,"lo":-1.31,"hi":1.79},
{"p":1,"g":"b","z":25,"lo":-1.7,"hi":1.9},
{"p":1,"g":"b","z":26,"lo":-1.92,"hi":1.98},
{"p":1,"g":"b","z":27,"lo":-1.99,"hi":2.01},
{"p":1,"g":"b","z":28,"lo":-2,"hi":2},
{"p":1,"g":"b","z":30,"lo":-2,"hi":2},
{"p":1,"g":"b","z":30.5,"lo":-2,"hi":2},
{"p":3,"g":"a","z":12,"lo":1.43,"hi":1.47},
{"p":3,"g":"a","z":13,"lo":0.93,"hi":1.13},
{"p":3,"g":"a","z":14,"lo":0.35,"hi":1.25},
{"p":3,"g":"a","z":15,"lo":-0.26,"hi":1.54},
{"p":3,"g":"a","z":16,"lo":-0.85,"hi":1.75},
{"p":3,"g":"a","z":17,"lo":-1.38,"hi":1.82},
{"p":3,"g":"a","z":18,"lo":-1.78,"hi":1.92},
{"p":3,"g":"a","z":19,"lo":-1.93,"hi":1.97},
{"p":3,"g":"a","z":20,"lo":-2,"hi":2},
{"p":3,"g":"a","z":25,"lo":-2,"hi":2},
{"p":3,"g":"a","z":30.5,"lo":-2,"hi":2},
{"p":4,"g":"a","z":18,"lo":1.25,"hi":1.35},
{"p":4,"g":"a","z":19,"lo":0.45,"hi":1.15},
{"p":4,"g":"a","z":20,"lo":0.1,"hi":0.8},
{"p":4,"g":"a","z":21,"lo":0.02,"hi":0.18},
{"p":4,"g":"b","z":21,"lo":0.02,"hi":0.18},
{"p":4,"g":"b","z":22,"lo":-0.64,"hi":0.76},
{"p":4,"g":"b","z":23,"lo":-1.27,"hi":1.33},
{"p":4,"g":"b","z":24,"lo":-1.69,"hi":1.71},
{"p":4,"g":"b","z":25,"lo":-1.9,"hi":1.9},
{"p":4,"g":"b","z":26,"lo":-2,"hi":2},
{"p":4,"g":"b","z":30.5,"lo":-2,"hi":2},
{"p":10,"g":"a","z":5,"lo":-0.57,"hi":-0.57},
{"p":10,"g":"a","z":6,"lo":-0.65,"hi":-0.15},
{"p":10,"g":"a","z":7,"lo":-0.67,"hi":-0.07},
{"p":10,"g":"a","z":8,"lo":-0.78,"hi":-0.48},
{"p":10,"g":"a","z":9,"lo":-0.85,"hi":-0.85},
{"p":10,"g":"b","z":18,"lo":1.93,"hi":1.97},
{"p":10,"g":"b","z":19,"lo":1.8,"hi":2.1},
{"p":10,"g":"b","z":20,"lo":1.07,"hi":2.27},
{"p":10,"g":"b","z":21,"lo":0.06,"hi":2.26},
{"p":10,"g":"b","z":22,"lo":-0.78,"hi":2.22},
{"p":10,"g":"b","z":23,"lo":-1.43,"hi":2.07},
{"p":10,"g":"b","z":24,"lo":-1.8,"hi":2.0},
{"p":10,"g":"b","z":25,"lo":-1.92,"hi":1.98},
{"p":10,"g":"b","z":26,"lo":-1.86,"hi":1.94},
{"p":10,"g":"b","z":27,"lo":-1.57,"hi":1.83},
{"p":10,"g":"b","z":28,"lo":-1.06,"hi":1.54},
{"p":10,"g":"b","z":29,"lo":-0.35,"hi":1.05},
{"p":10,"g":"b","z":30,"lo":0.28,"hi":0.48},
{"p":10,"g":"b","z":30.5,"lo":0.13,"hi":0.63}
]
},
"columns": 5,
"spacing": {"row": 82, "column": 84},
"bounds": "flush",
"concat": [
{"width":429,"height":424,"layer":[
{"data":{"name":"b"},"transform":[{"filter":"datum.p==1"}],"mark":{"type":"area","interpolate":"monotone","color":{"gradient":"linear","x1":0,"y1":0,"x2":0,"y2":1,"stops":[{"offset":0,"color":"rgba(59,106,172,0)"},{"offset":0.15,"color":"rgba(59,106,172,0.04)"},{"offset":0.3,"color":"rgba(59,106,172,0.14)"},{"offset":0.42,"color":"rgba(59,106,172,0.3)"},{"offset":0.5,"color":"rgba(59,106,172,0.4)"},{"offset":0.58,"color":"rgba(59,106,172,0.3)"},{"offset":0.7,"color":"rgba(59,106,172,0.14)"},{"offset":0.85,"color":"rgba(59,106,172,0.04)"},{"offset":1,"color":"rgba(59,106,172,0)"}]}},"encoding":{"x":{"field":"z","type":"quantitative","scale":{"domain":[-0.5,30.5],"nice":false,"zero":false},"axis":null},"y":{"field":"lo","type":"quantitative","scale":{"domain":[-3,3],"nice":false,"zero":false},"axis":null},"y2":{"field":"hi"},"detail":{"field":"g","type":"nominal"}}},
{"data":{"name":"o"},"transform":[{"filter":"datum.p==1"}],"mark":{"type":"point","shape":"M-1,-1L1,1M1,-1L-1,1","filled":false,"color":"black","strokeWidth":4,"size":200,"opacity":1},"encoding":{"x":{"field":"z","type":"quantitative","axis":{"orient":"bottom","values":[0,5,10,15,20,25,30],"labels":false,"title":null}},"y":{"field":"y","type":"quantitative","axis":{"orient":"left","values":[-3,-2,-1,0,1,2,3],"labels":true,"title":null}}}},
{"data":{"name":"m"},"transform":[{"filter":"datum.p==1"}],"mark":{"type":"line","color":"#3b6aac","strokeWidth":6,"interpolate":"monotone"},"encoding":{"x":{"field":"z","type":"quantitative","axis":{"orient":"top","values":[0,5,10,15,20,25,30],"labels":false,"title":null}},"y":{"field":"y","type":"quantitative","axis":{"orient":"right","values":[-3,-2,-1,0,1,2,3],"labels":false,"title":null}}}},
{"data":{"name":"r"},"transform":[{"filter":"datum.p==1"}],"mark":{"type":"line","color":"#ff0000","strokeWidth":2.5},"encoding":{"x":{"field":"z","type":"quantitative","axis":null},"y":{"field":"y","type":"quantitative","axis":null}}}
],"resolve":{"axis":{"x":"independent","y":"independent"}}},
{"width":429,"height":424,"layer":[
{"data":{"name":"o"},"transform":[{"filter":"datum.p==2"}],"mark":{"type":"point","shape":"M-1,-1L1,1M1,-1L-1,1","filled":false,"color":"black","strokeWidth":4,"size":200,"opacity":1},"encoding":{"x":{"field":"z","type":"quantitative","scale":{"domain":[-0.5,30.5],"nice":false,"zero":false},"axis":{"orient":"bottom","values":[0,5,10,15,20,25,30],"labels":false,"title":null}},"y":{"field":"y","type":"quantitative","scale":{"domain":[-3,3],"nice":false,"zero":false},"axis":{"orient":"left","values":[-3,-2,-1,0,1,2,3],"labels":false,"title":null}}}},
{"data":{"name":"m"},"transform":[{"filter":"datum.p==2"}],"mark":{"type":"line","color":"#3b6aac","strokeWidth":6,"interpolate":"monotone"},"encoding":{"x":{"field":"z","type":"quantitative","axis":{"orient":"top","values":[0,5,10,15,20,25,30],"labels":false,"title":null}},"y":{"field":"y","type":"quantitative","axis":{"orient":"right","values":[-3,-2,-1,0,1,2,3],"labels":false,"title":null}}}},
{"data":{"name":"r"},"transform":[{"filter":"datum.p==2"}],"mark":{"type":"line","color":"#ff0000","strokeWidth":2.5},"encoding":{"x":{"field":"z","type":"quantitative","axis":null},"y":{"field":"y","type":"quantitative","axis":null}}}
],"resolve":{"axis":{"x":"independent","y":"independent"}}},
{"width":429,"height":424,"layer":[
{"data":{"name":"b"},"transform":[{"filter":"datum.p==3"}],"mark":{"type":"area","interpolate":"monotone","color":{"gradient":"linear","x1":0,"y1":0,"x2":0,"y2":1,"stops":[{"offset":0,"color":"rgba(59,106,172,0)"},{"offset":0.15,"color":"rgba(59,106,172,0.04)"},{"offset":0.3,"color":"rgba(59,106,172,0.14)"},{"offset":0.42,"color":"rgba(59,106,172,0.3)"},{"offset":0.5,"color":"rgba(59,106,172,0.4)"},{"offset":0.58,"color":"rgba(59,106,172,0.3)"},{"offset":0.7,"color":"rgba(59,106,172,0.14)"},{"offset":0.85,"color":"rgba(59,106,172,0.04)"},{"offset":1,"color":"rgba(59,106,172,0)"}]}},"encoding":{"x":{"field":"z","type":"quantitative","scale":{"domain":[-0.5,30.5],"nice":false,"zero":false},"axis":null},"y":{"field":"lo","type":"quantitative","scale":{"domain":[-3,3],"nice":false,"zero":false},"axis":null},"y2":{"field":"hi"},"detail":{"field":"g","type":"nominal"}}},
{"data":{"name":"o"},"transform":[{"filter":"datum.p==3"}],"mark":{"type":"point","shape":"M-1,-1L1,1M1,-1L-1,1","filled":false,"color":"black","strokeWidth":4,"size":200,"opacity":1},"encoding":{"x":{"field":"z","type":"quantitative","axis":{"orient":"bottom","values":[0,5,10,15,20,25,30],"labels":false,"title":null}},"y":{"field":"y","type":"quantitative","axis":{"orient":"left","values":[-3,-2,-1,0,1,2,3],"labels":false,"title":null}}}},
{"data":{"name":"m"},"transform":[{"filter":"datum.p==3"}],"mark":{"type":"line","color":"#3b6aac","strokeWidth":6,"interpolate":"monotone"},"encoding":{"x":{"field":"z","type":"quantitative","axis":{"orient":"top","values":[0,5,10,15,20,25,30],"labels":false,"title":null}},"y":{"field":"y","type":"quantitative","axis":{"orient":"right","values":[-3,-2,-1,0,1,2,3],"labels":false,"title":null}}}},
{"data":{"name":"r"},"transform":[{"filter":"datum.p==3"}],"mark":{"type":"line","color":"#ff0000","strokeWidth":2.5},"encoding":{"x":{"field":"z","type":"quantitative","axis":null},"y":{"field":"y","type":"quantitative","axis":null}}}
],"resolve":{"axis":{"x":"independent","y":"independent"}}},
{"width":429,"height":424,"layer":[
{"data":{"name":"b"},"transform":[{"filter":"datum.p==4"}],"mark":{"type":"area","interpolate":"monotone","color":{"gradient":"linear","x1":0,"y1":0,"x2":0,"y2":1,"stops":[{"offset":0,"color":"rgba(59,106,172,0)"},{"offset":0.15,"color":"rgba(59,106,172,0.04)"},{"offset":0.3,"color":"rgba(59,106,172,0.14)"},{"offset":0.42,"color":"rgba(59,106,172,0.3)"},{"offset":0.5,"color":"rgba(59,106,172,0.4)"},{"offset":0.58,"color":"rgba(59,106,172,0.3)"},{"offset":0.7,"color":"rgba(59,106,172,0.14)"},{"offset":0.85,"color":"rgba(59,106,172,0.04)"},{"offset":1,"color":"rgba(59,106,172,0)"}]}},"encoding":{"x":{"field":"z","type":"quantitative","scale":{"domain":[-0.5,30.5],"nice":false,"zero":false},"axis":null},"y":{"field":"lo","type":"quantitative","scale":{"domain":[-3,3],"nice":false,"zero":false},"axis":null},"y2":{"field":"hi"},"detail":{"field":"g","type":"nominal"}}},
{"data":{"name":"o"},"transform":[{"filter":"datum.p==4"}],"mark":{"type":"point","shape":"M-1,-1L1,1M1,-1L-1,1","filled":false,"color":"black","strokeWidth":4,"size":200,"opacity":1},"encoding":{"x":{"field":"z","type":"quantitative","axis":{"orient":"bottom","values":[0,5,10,15,20,25,30],"labels":false,"title":null}},"y":{"field":"y","type":"quantitative","axis":{"orient":"left","values":[-3,-2,-1,0,1,2,3],"labels":false,"title":null}}}},
{"data":{"name":"m"},"transform":[{"filter":"datum.p==4"}],"mark":{"type":"line","color":"#3b6aac","strokeWidth":6,"interpolate":"monotone"},"encoding":{"x":{"field":"z","type":"quantitative","axis":{"orient":"top","values":[0,5,10,15,20,25,30],"labels":false,"title":null}},"y":{"field":"y","type":"quantitative","axis":{"orient":"right","values":[-3,-2,-1,0,1,2,3],"labels":false,"title":null}}}},
{"data":{"name":"r"},"transform":[{"filter":"datum.p==4"}],"mark":{"type":"line","color":"#ff0000","strokeWidth":2.5},"encoding":{"x":{"field":"z","type":"quantitative","axis":null},"y":{"field":"y","type":"quantitative","axis":null}}}
],"resolve":{"axis":{"x":"independent","y":"independent"}}},
{"width":429,"height":424,"layer":[
{"data":{"name":"o"},"transform":[{"filter":"datum.p==5"}],"mark":{"type":"point","shape":"M-1,-1L1,1M1,-1L-1,1","filled":false,"color":"black","strokeWidth":4,"size":200,"opacity":1},"encoding":{"x":{"field":"z","type":"quantitative","scale":{"domain":[-0.5,30.5],"nice":false,"zero":false},"axis":{"orient":"bottom","values":[0,5,10,15,20,25,30],"labels":false,"title":null}},"y":{"field":"y","type":"quantitative","scale":{"domain":[-3,3],"nice":false,"zero":false},"axis":{"orient":"left","values":[-3,-2,-1,0,1,2,3],"labels":false,"title":null}}}},
{"data":{"name":"m"},"transform":[{"filter":"datum.p==5"}],"mark":{"type":"line","color":"#3b6aac","strokeWidth":6,"interpolate":"monotone"},"encoding":{"x":{"field":"z","type":"quantitative","axis":{"orient":"top","values":[0,5,10,15,20,25,30],"labels":false,"title":null}},"y":{"field":"y","type":"quantitative","axis":{"orient":"right","values":[-3,-2,-1,0,1,2,3],"labels":false,"title":null}}}},
{"data":{"name":"r"},"transform":[{"filter":"datum.p==5"}],"mark":{"type":"line","color":"#ff0000","strokeWidth":2.5},"encoding":{"x":{"field":"z","type":"quantitative","axis":null},"y":{"field":"y","type":"quantitative","axis":null}}}
],"resolve":{"axis":{"x":"independent","y":"independent"}}},
{"width":429,"height":424,"layer":[
{"data":{"name":"o"},"transform":[{"filter":"datum.p==6"}],"mark":{"type":"point","shape":"M-1,-1L1,1M1,-1L-1,1","filled":false,"color":"black","strokeWidth":4,"size":200,"opacity":1},"encoding":{"x":{"field":"z","type":"quantitative","scale":{"domain":[-0.5,30.5],"nice":false,"zero":false},"axis":{"orient":"bottom","values":[0,5,10,15,20,25,30],"labels":true,"title":null}},"y":{"field":"y","type":"quantitative","scale":{"domain":[-3,3],"nice":false,"zero":false},"axis":{"orient":"left","values":[-3,-2,-1,0,1,2,3],"labels":true,"title":"fⱼ(z)","titleAngle":0,"titleX":-151,"titleY":-8,"titleAlign":"center","titleBaseline":"alphabetic","titleFont":"Liberation Serif","titleFontStyle":"italic","titleFontWeight":"normal","titleFontSize":62}}}},
{"data":{"name":"m"},"transform":[{"filter":"datum.p==6"}],"mark":{"type":"line","color":"#3b6aac","strokeWidth":6,"interpolate":"monotone"},"encoding":{"x":{"field":"z","type":"quantitative","axis":{"orient":"top","values":[0,5,10,15,20,25,30],"labels":false,"title":null}},"y":{"field":"y","type":"quantitative","axis":{"orient":"right","values":[-3,-2,-1,0,1,2,3],"labels":false,"title":null}}}},
{"data":{"name":"r"},"transform":[{"filter":"datum.p==6"}],"mark":{"type":"line","color":"#ff0000","strokeWidth":2.5},"encoding":{"x":{"field":"z","type":"quantitative","axis":null},"y":{"field":"y","type":"quantitative","axis":null}}}
],"resolve":{"axis":{"x":"independent","y":"independent"}}},
{"width":429,"height":424,"layer":[
{"data":{"name":"o"},"transform":[{"filter":"datum.p==7"}],"mark":{"type":"point","shape":"M-1,-1L1,1M1,-1L-1,1","filled":false,"color":"black","strokeWidth":4,"size":200,"opacity":1},"encoding":{"x":{"field":"z","type":"quantitative","scale":{"domain":[-0.5,30.5],"nice":false,"zero":false},"axis":{"orient":"bottom","values":[0,5,10,15,20,25,30],"labels":true,"title":null}},"y":{"field":"y","type":"quantitative","scale":{"domain":[-3,3],"nice":false,"zero":false},"axis":{"orient":"left","values":[-3,-2,-1,0,1,2,3],"labels":false,"title":null}}}},
{"data":{"name":"m"},"transform":[{"filter":"datum.p==7"}],"mark":{"type":"line","color":"#3b6aac","strokeWidth":6,"interpolate":"monotone"},"encoding":{"x":{"field":"z","type":"quantitative","axis":{"orient":"top","values":[0,5,10,15,20,25,30],"labels":false,"title":null}},"y":{"field":"y","type":"quantitative","axis":{"orient":"right","values":[-3,-2,-1,0,1,2,3],"labels":false,"title":null}}}},
{"data":{"name":"r"},"transform":[{"filter":"datum.p==7"}],"mark":{"type":"line","color":"#ff0000","strokeWidth":2.5},"encoding":{"x":{"field":"z","type":"quantitative","axis":null},"y":{"field":"y","type":"quantitative","axis":null}}}
],"resolve":{"axis":{"x":"independent","y":"independent"}}},
{"width":429,"height":424,"layer":[
{"data":{"name":"o"},"transform":[{"filter":"datum.p==8"}],"mark":{"type":"point","shape":"M-1,-1L1,1M1,-1L-1,1","filled":false,"color":"black","strokeWidth":4,"size":200,"opacity":1},"encoding":{"x":{"field":"z","type":"quantitative","scale":{"domain":[-0.5,30.5],"nice":false,"zero":false},"axis":{"orient":"bottom","values":[0,5,10,15,20,25,30],"labels":true,"title":"z","titleX":175,"titleY":113,"titleAlign":"center","titleBaseline":"alphabetic","titleFont":"Liberation Serif","titleFontStyle":"italic","titleFontWeight":"normal","titleFontSize":54}},"y":{"field":"y","type":"quantitative","scale":{"domain":[-3,3],"nice":false,"zero":false},"axis":{"orient":"left","values":[-3,-2,-1,0,1,2,3],"labels":false,"title":null}}}},
{"data":{"name":"m"},"transform":[{"filter":"datum.p==8"}],"mark":{"type":"line","color":"#3b6aac","strokeWidth":6,"interpolate":"monotone"},"encoding":{"x":{"field":"z","type":"quantitative","axis":{"orient":"top","values":[0,5,10,15,20,25,30],"labels":false,"title":null}},"y":{"field":"y","type":"quantitative","axis":{"orient":"right","values":[-3,-2,-1,0,1,2,3],"labels":false,"title":null}}}},
{"data":{"name":"r"},"transform":[{"filter":"datum.p==8"}],"mark":{"type":"line","color":"#ff0000","strokeWidth":2.5},"encoding":{"x":{"field":"z","type":"quantitative","axis":null},"y":{"field":"y","type":"quantitative","axis":null}}}
],"resolve":{"axis":{"x":"independent","y":"independent"}}},
{"width":429,"height":424,"layer":[
{"data":{"name":"o"},"transform":[{"filter":"datum.p==9"}],"mark":{"type":"point","shape":"M-1,-1L1,1M1,-1L-1,1","filled":false,"color":"black","strokeWidth":4,"size":200,"opacity":1},"encoding":{"x":{"field":"z","type":"quantitative","scale":{"domain":[-0.5,30.5],"nice":false,"zero":false},"axis":{"orient":"bottom","values":[0,5,10,15,20,25,30],"labels":true,"title":null}},"y":{"field":"y","type":"quantitative","scale":{"domain":[-3,3],"nice":false,"zero":false},"axis":{"orient":"left","values":[-3,-2,-1,0,1,2,3],"labels":false,"title":null}}}},
{"data":{"name":"m"},"transform":[{"filter":"datum.p==9"}],"mark":{"type":"line","color":"#3b6aac","strokeWidth":6,"interpolate":"monotone"},"encoding":{"x":{"field":"z","type":"quantitative","axis":{"orient":"top","values":[0,5,10,15,20,25,30],"labels":false,"title":null}},"y":{"field":"y","type":"quantitative","axis":{"orient":"right","values":[-3,-2,-1,0,1,2,3],"labels":false,"title":null}}}},
{"data":{"name":"r"},"transform":[{"filter":"datum.p==9"}],"mark":{"type":"line","color":"#ff0000","strokeWidth":2.5},"encoding":{"x":{"field":"z","type":"quantitative","axis":null},"y":{"field":"y","type":"quantitative","axis":null}}}
],"resolve":{"axis":{"x":"independent","y":"independent"}}},
{"width":429,"height":424,"layer":[
{"data":{"name":"b"},"transform":[{"filter":"datum.p==10"}],"mark":{"type":"area","interpolate":"monotone","color":{"gradient":"linear","x1":0,"y1":0,"x2":0,"y2":1,"stops":[{"offset":0,"color":"rgba(59,106,172,0)"},{"offset":0.15,"color":"rgba(59,106,172,0.04)"},{"offset":0.3,"color":"rgba(59,106,172,0.14)"},{"offset":0.42,"color":"rgba(59,106,172,0.3)"},{"offset":0.5,"color":"rgba(59,106,172,0.4)"},{"offset":0.58,"color":"rgba(59,106,172,0.3)"},{"offset":0.7,"color":"rgba(59,106,172,0.14)"},{"offset":0.85,"color":"rgba(59,106,172,0.04)"},{"offset":1,"color":"rgba(59,106,172,0)"}]}},"encoding":{"x":{"field":"z","type":"quantitative","scale":{"domain":[-0.5,30.5],"nice":false,"zero":false},"axis":null},"y":{"field":"lo","type":"quantitative","scale":{"domain":[-3,3],"nice":false,"zero":false},"axis":null},"y2":{"field":"hi"},"detail":{"field":"g","type":"nominal"}}},
{"data":{"name":"o"},"transform":[{"filter":"datum.p==10"}],"mark":{"type":"point","shape":"M-1,-1L1,1M1,-1L-1,1","filled":false,"color":"black","strokeWidth":4,"size":200,"opacity":1},"encoding":{"x":{"field":"z","type":"quantitative","axis":{"orient":"bottom","values":[0,5,10,15,20,25,30],"labels":true,"title":null}},"y":{"field":"y","type":"quantitative","axis":{"orient":"left","values":[-3,-2,-1,0,1,2,3],"labels":false,"title":null}}}},
{"data":{"name":"m"},"transform":[{"filter":"datum.p==10"}],"mark":{"type":"line","color":"#3b6aac","strokeWidth":6,"interpolate":"monotone"},"encoding":{"x":{"field":"z","type":"quantitative","axis":{"orient":"top","values":[0,5,10,15,20,25,30],"labels":false,"title":null}},"y":{"field":"y","type":"quantitative","axis":{"orient":"right","values":[-3,-2,-1,0,1,2,3],"labels":false,"title":null}}}},
{"data":{"name":"r"},"transform":[{"filter":"datum.p==10"}],"mark":{"type":"line","color":"#ff0000","strokeWidth":2.5},"encoding":{"x":{"field":"z","type":"quantitative","axis":null},"y":{"field":"y","type":"quantitative","axis":null}}}
],"resolve":{"axis":{"x":"independent","y":"independent"}}}
],
"config": {
"view": {"stroke": "black", "strokeWidth": 3},
"axis": {"domain": false, "grid": false, "ticks": true, "tickSize": -12, "tickWidth": 2, "tickColor": "black", "labelFont": "DejaVu Sans", "labelFontSize": 44, "labelColor": "black", "labelFlush": false, "labelOverlap": false, "titleColor": "black"},
"axisX": {"labelPadding": 22},
"axisY": {"labelPadding": 26}
}
}
